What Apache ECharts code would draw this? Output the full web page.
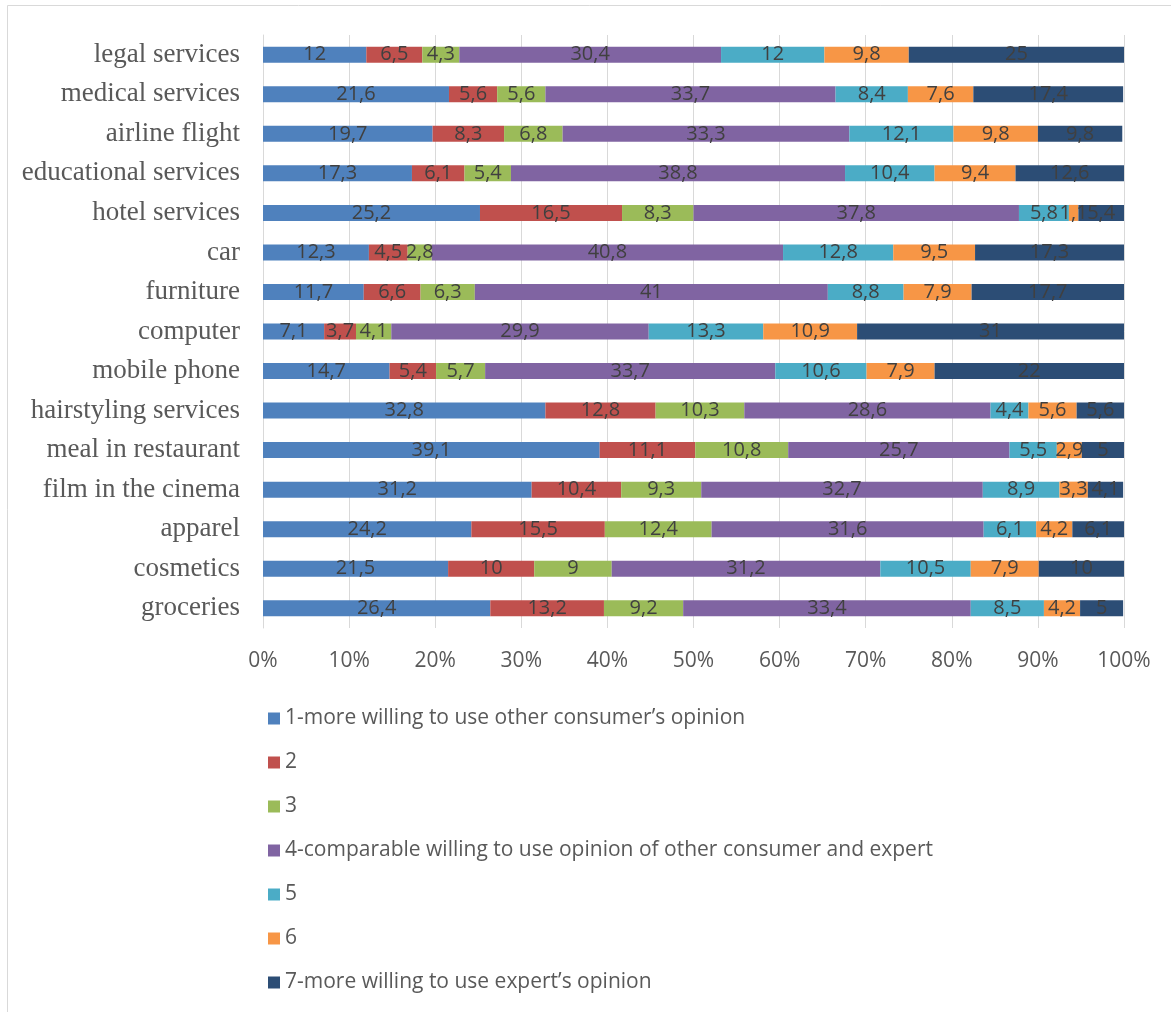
<!DOCTYPE html>
<html>
<head>
<meta charset="utf-8">
<script src="https://cdn.jsdelivr.net/npm/echarts@6/dist/echarts.min.js"></script>
<style>
  html, body { margin: 0; padding: 0; background: #ffffff; }
  #chart { width: 1171px; height: 1012px; }
</style>
</head>
<body>
<div id="chart"></div>
<script>
// Categories, listed top to bottom
const categories = [
  'legal services', 'medical services', 'airline flight', 'educational services',
  'hotel services', 'car', 'furniture', 'computer', 'mobile phone',
  'hairstyling services', 'meal in restaurant', 'film in the cinema',
  'apparel', 'cosmetics', 'groceries'
];

const seriesNames = [
  '1-more willing to use other consumer\u2019s opinion',
  '2',
  '3',
  '4-comparable willing to use opinion of other consumer and expert',
  '5',
  '6',
  '7-more willing to use expert\u2019s opinion'
];

// Share of respondents (%) per answer, in category order
const s1 = [12, 21.6, 19.7, 17.3, 25.2, 12.3, 11.7, 7.1, 14.7, 32.8, 39.1, 31.2, 24.2, 21.5, 26.4];
const s2 = [6.5, 5.6, 8.3, 6.1, 16.5, 4.5, 6.6, 3.7, 5.4, 12.8, 11.1, 10.4, 15.5, 10, 13.2];
const s3 = [4.3, 5.6, 6.8, 5.4, 8.3, 2.8, 6.3, 4.1, 5.7, 10.3, 10.8, 9.3, 12.4, 9, 9.2];
const s4 = [30.4, 33.7, 33.3, 38.8, 37.8, 40.8, 41, 29.9, 33.7, 28.6, 25.7, 32.7, 31.6, 31.2, 33.4];
const s5 = [12, 8.4, 12.1, 10.4, 5.8, 12.8, 8.8, 13.3, 10.6, 4.4, 5.5, 8.9, 6.1, 10.5, 8.5];
const s6 = [9.8, 7.6, 9.8, 9.4, 1.1, 9.5, 7.9, 10.9, 7.9, 5.6, 2.9, 3.3, 4.2, 7.9, 4.2];
const s7 = [25, 17.4, 9.8, 12.6, 5.4, 17.3, 17.7, 31, 22, 5.6, 5, 4.1, 6.1, 10, 5];

const allSeries = [s1, s2, s3, s4, s5, s6, s7];
const colors = ['#4F81BD', '#C0504D', '#9BBB59', '#8064A2', '#4BACC6', '#F79646', '#2C4D75'];

const chart = echarts.init(document.getElementById('chart'));

chart.setOption({
  animation: false,
  backgroundColor: '#ffffff',
  color: colors,
  graphic: [{
    type: 'rect',
    shape: { x: 7.5, y: 5.5, width: 1170, height: 1020 },
    style: { fill: 'none', stroke: '#d9d9d9', lineWidth: 1 },
    silent: true,
    z: -1
  }],
  grid: { left: 263, right: 47, top: 35, height: 593, containLabel: false },
  xAxis: {
    type: 'value',
    min: 0,
    max: 100,
    interval: 10,
    axisLine: { show: false },
    axisTick: { show: false },
    splitLine: { show: true, lineStyle: { color: '#d9d9d9', width: 1 } },
    axisLabel: {
      formatter: '{value}%',
      color: '#595959',
      fontFamily: 'Open Sans',
      fontSize: 21,
      margin: 23
    }
  },
  yAxis: {
    type: 'category',
    data: categories,
    inverse: true,
    axisLine: { show: true, lineStyle: { color: '#d9d9d9', width: 1 } },
    axisTick: { show: false },
    axisLabel: {
      color: '#595959',
      fontFamily: 'Liberation Serif',
      fontSize: 27,
      margin: 23
    }
  },
  legend: {
    orient: 'vertical',
    left: 263,
    top: 702,
    icon: 'rect',
    itemWidth: 12,
    itemHeight: 12,
    itemGap: 21,
    textStyle: {
      color: '#595959',
      fontFamily: 'Open Sans',
      fontSize: 21,
      lineHeight: 23
    },
    data: seriesNames
  },
  series: allSeries.map((vals, i) => ({
    name: seriesNames[i],
    type: 'bar',
    stack: 'total',
    barWidth: 16,
    data: vals,
    itemStyle: { color: colors[i] },
    label: {
      show: true,
      position: 'inside',
      color: '#404040',
      fontFamily: 'Open Sans',
      fontSize: 20,
      formatter: p => String(p.value).replace('.', ',')
    }
  }))
});
</script>
</body>
</html>
